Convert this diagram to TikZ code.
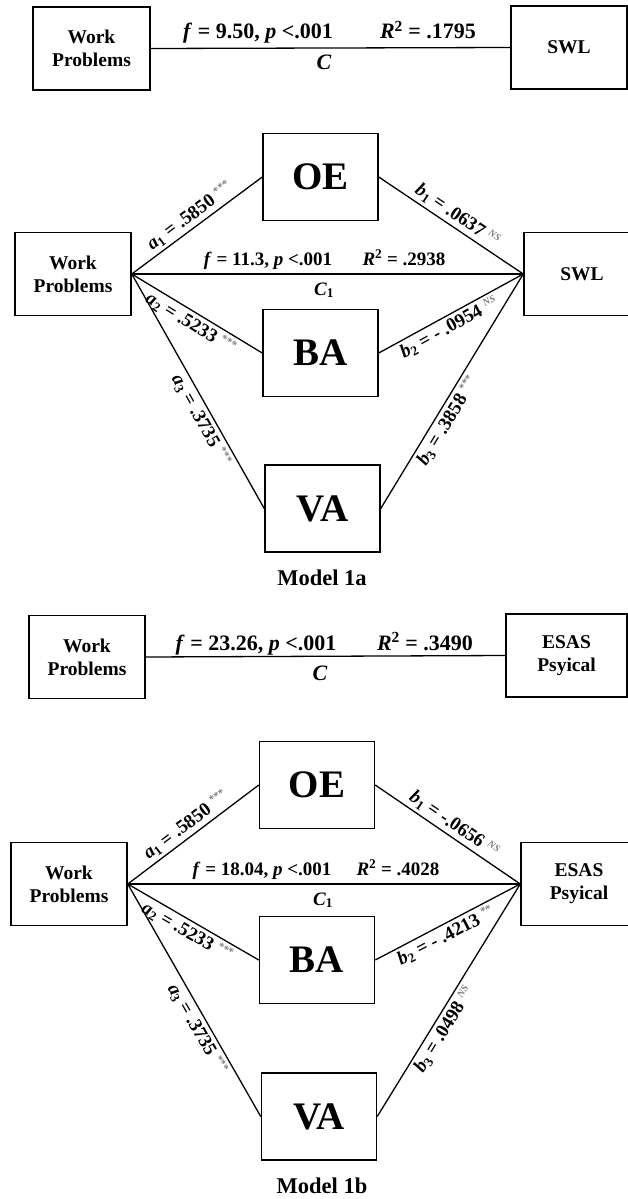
\documentclass[tikz,border=0pt]{standalone}
\usepackage{fontspec}
\setmainfont{Liberation Serif}
\newcommand\sigmark[1]{\textsuperscript{\textcolor{gray}{\fontsize{11}{11}\selectfont #1}}}
\newcommand\nsmark{\textsuperscript{\textcolor{gray}{\fontsize{10}{10}\selectfont\itshape NS}}}
\newcommand\ital[1]{\textit{#1}}
\begin{document}
\begin{tikzpicture}[x=1pt,y=-1pt,
  box/.style={draw, line width=1.5pt, minimum width=116pt, minimum height=83pt,
    align=center, inner sep=0pt, font=\fontsize{19.5}{23}\selectfont\bfseries},
  med/.style={draw, line width=1.5pt, minimum width=115pt, minimum height=87pt,
    inner sep=0pt, font=\fontsize{39}{42}\selectfont\bfseries},
  link/.style={line width=1.3pt},
  hlab/.style={anchor=base, inner sep=0pt, font=\fontsize{19}{22}\selectfont\bfseries},
  tlab/.style={anchor=base, inner sep=0pt, font=\fontsize{22}{25}\selectfont\bfseries},
  dlab/.style={sloped, inner sep=3pt, font=\fontsize{19}{22}\selectfont\bfseries},
  ttl/.style={anchor=base, inner sep=0pt, font=\fontsize{22.5}{26}\selectfont\bfseries}
]
\fill[white] (0,0) rectangle (628,1199);
\useasboundingbox (0,0) rectangle (628,1199);

% ---------- total effect: Work Problems -> SWL ----------
\node[box, minimum width=117pt] (wpA) at (91.5,48.5) {Work\\Problems};
\node[box] (swlA) at (569,47.5) {SWL};
\draw[link] (wpA.east) -- (swlA.west);
\node[tlab] (fA) at (258,39) {\ital{f} = 9.50, \ital{p} <.001};
\node[tlab] (rA) at (428,39) {\ital{R}\textsuperscript{2} = .1795};
\node[tlab] (cA) at (324,70) {\ital{C}};

% ---------- Model 1a ----------
\node[box] (wpB) at (73,274) {Work\\Problems};
\node[med] (oeB) at (320.5,177) {OE};
\node[med] (baB) at (320.5,353) {BA};
\node[med] (vaB) at (322.5,508.5) {VA};
\node[box] (swlB) at (582,274) {SWL};
\draw[link] (wpB.east) -- (swlB.west);
\draw[link] (wpB.east) -- node[dlab, above] {\ital{a}\textsubscript{1} = .5850 \sigmark{***}} (oeB.west);
\draw[link] (wpB.east) -- node[dlab, below] {\ital{a}\textsubscript{2} = .5233 \sigmark{***}} (baB.west);
\draw[link] (wpB.east) -- node[dlab, below, pos=0.6] {\ital{a}\textsubscript{3} = .3735 \sigmark{***}} (vaB.west);
\draw[link] (oeB.east) -- node[dlab, above] {\ital{b}\textsubscript{1} = .0637 \nsmark} (swlB.west);
\draw[link] (baB.east) -- node[dlab, below, pos=0.45] {\ital{b}\textsubscript{2} = - .0954 \nsmark} (swlB.west);
\draw[link] (vaB.east) -- node[dlab, below, pos=0.4] {\ital{b}\textsubscript{3} = .3858 \sigmark{***}} (swlB.west);
\node[hlab] (fB) at (268,265) {\ital{f} = 11.3, \ital{p} <.001};
\node[hlab] (rB) at (404,265) {\ital{R}\textsuperscript{2} = .2938};
\node[hlab] (cB) at (324,295) {\ital{C}\textsubscript{1}};
\node[ttl] (tB) at (322,585) {Model 1a};

% ---------- total effect: Work Problems -> ESAS Psyical ----------
\node[box] (wpC) at (87,657) {Work\\Problems};
\node[box, minimum width=121pt] (esC) at (566.5,655.5) {ESAS\\Psyical};
\draw[link] (wpC.east) -- (esC.west);
\node[tlab] (fC) at (256,650) {\ital{f} = 23.26, \ital{p} <.001};
\node[tlab] (rC) at (425,650) {\ital{R}\textsuperscript{2} = .3490};
\node[tlab] (cC) at (320,680) {\ital{C}};

% ---------- Model 1b ----------
\node[box] (wpD) at (69,884) {Work\\Problems};
\node[med] (oeD) at (317,785) {OE};
\node[med] (baD) at (317,960) {BA};
\node[med] (vaD) at (319,1116.5) {VA};
\node[box] (esD) at (579,884) {ESAS\\Psyical};
\draw[link] (wpD.east) -- (esD.west);
\draw[link] (wpD.east) -- node[dlab, above] {\ital{a}\textsubscript{1} = .5850 \sigmark{***}} (oeD.west);
\draw[link] (wpD.east) -- node[dlab, below] {\ital{a}\textsubscript{2} = .5233 \sigmark{***}} (baD.west);
\draw[link] (wpD.east) -- node[dlab, below, pos=0.6] {\ital{a}\textsubscript{3} = .3735 \sigmark{***}} (vaD.west);
\draw[link] (oeD.east) -- node[dlab, above] {\ital{b}\textsubscript{1} = -.0656 \nsmark} (esD.west);
\draw[link] (baD.east) -- node[dlab, below, pos=0.45] {\ital{b}\textsubscript{2} = - .4213 \sigmark{**}} (esD.west);
\draw[link] (vaD.east) -- node[dlab, below, pos=0.4] {\ital{b}\textsubscript{3} = .0498 \nsmark} (esD.west);
\node[hlab] (fD) at (262,875) {\ital{f} = 18.04, \ital{p} <.001};
\node[hlab] (rD) at (398,875) {\ital{R}\textsuperscript{2} = .4028};
\node[hlab] (cD) at (323,905) {\ital{C}\textsubscript{1}};
\node[ttl] (tD) at (322,1193) {Model 1b};
\end{tikzpicture}
\end{document}
